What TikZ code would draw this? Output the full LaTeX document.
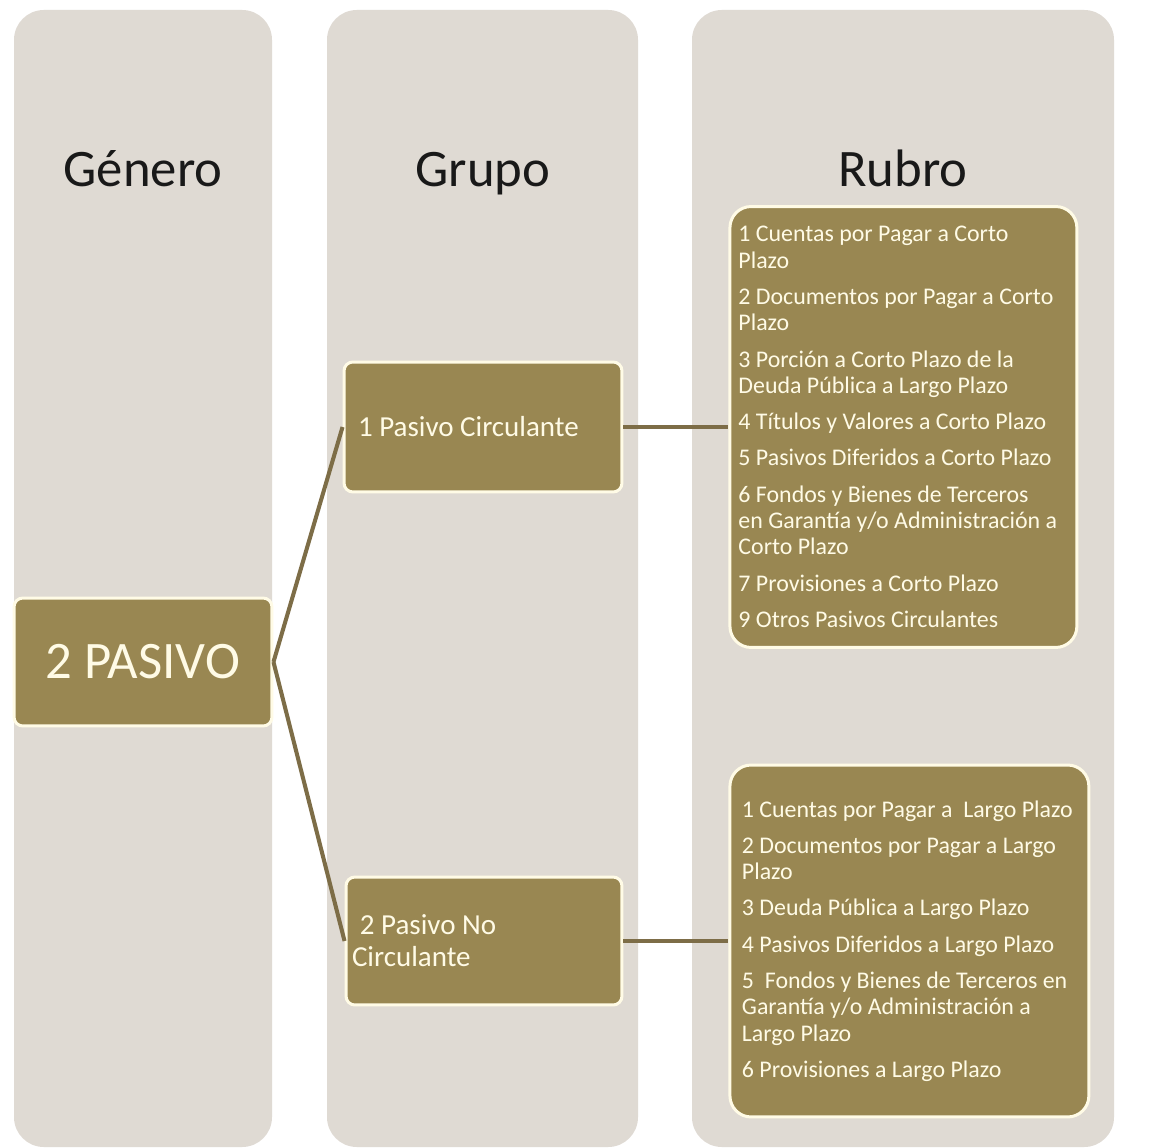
\documentclass[tikz,border=0pt]{standalone}
\usepackage{fontspec}
\setmainfont{Carlito}
\usetikzlibrary{positioning}
\definecolor{colfill}{HTML}{DFDAD3}
\definecolor{olive}{HTML}{998752}
\definecolor{linkcol}{HTML}{7D6D47}
\definecolor{cream}{HTML}{FFFBE6}
\tikzset{
  column/.style={fill=colfill, rounded corners=17pt},
  header/.style={anchor=base, font=\fontsize{30}{36}\selectfont, text=black!90},
  box/.style={fill=olive, draw=cream, line width=1.7pt, text=cream},
  plainspaces/.style={execute at begin node={\spaceskip=0pt\xspaceskip=0pt\relax}},
  grupobox/.style={box, plainspaces, rounded corners=5pt, minimum height=2.6cm, align=left,
    font=\fontsize{16.5}{18.2}\selectfont},
  rubrobox/.style={box, plainspaces, rounded corners=12pt, align=left,
    font=\fontsize{13.6}{14.9}\selectfont},
  link/.style={draw=linkcol, line width=2.3pt},
}
\begin{document}
\begin{tikzpicture}[x=0.02cm, y=-0.02cm]
\useasboundingbox[fill=white] (0,0) rectangle (1156,1148);
% columns
\fill[column] (14,10) rectangle (272,1147);
\fill[column] (327,10) rectangle (638,1147);
\fill[column] (692,10) rectangle (1114,1147);
% headers
\node[header] (genero) at (143,187) {Género};
\node[header] (grupo) at (483,187) {Grupo};
\node[header] (rubro) at (903,187) {Rubro};
% genero
\node[box, rounded corners=5pt, minimum width=5.16cm, minimum height=2.56cm,
  font=\fontsize{30}{35}\selectfont] (pasivo) at (143,662) {2 PASIVO};
% grupos
\node[grupobox, minimum width=5.56cm, text width=5cm] (G1) at (483,427)
  {1 Pasivo Circulante};
\node[grupobox, minimum width=5.52cm, minimum height=2.56cm, text width=5.28cm] (G2) at (484,941)
  {\hspace*{4.5pt}2 Pasivo No\\Circulante};
% rubros
\node[rubrobox, minimum width=6.94cm, minimum height=8.82cm, text width=6.6cm] (R1) [right=2.1cm of G1]
  {1 Cuentas por Pagar a Corto\\Plazo\\[5.8pt]
   2 Documentos por Pagar a Corto\\Plazo\\[5.8pt]
   3 Porción a Corto Plazo de la\\Deuda Pública a Largo Plazo\\[5.8pt]
   4 Títulos y Valores a Corto Plazo\\[5.8pt]
   5 Pasivos Diferidos a Corto Plazo\\[5.8pt]
   6 Fondos y Bienes de Terceros\\en Garantía y/o Administración a\\Corto Plazo\\[5.8pt]
   7 Provisiones a Corto Plazo\\[5.8pt]
   9 Otros Pasivos Circulantes};
\node[rubrobox, minimum width=7.18cm, minimum height=7.04cm, text width=6.7cm] (R2) [right=2.1cm of G2]
  {1 Cuentas por Pagar a\ \ Largo Plazo\\[5.8pt]
   2 Documentos por Pagar a Largo\\Plazo\\[5.8pt]
   3 Deuda Pública a Largo Plazo\\[5.8pt]
   4 Pasivos Diferidos a Largo Plazo\\[5.8pt]
   5\ \ Fondos y Bienes de Terceros en\\Garantía y/o Administración a\\Largo Plazo\\[5.8pt]
   6 Provisiones a Largo Plazo};
% links
\draw[link] (pasivo.east) -- (G1.west);
\draw[link] (pasivo.east) -- (G2.west);
\draw[link] (G1) -- (R1);
\draw[link] (G2) -- (R2);
\end{tikzpicture}
\end{document}
